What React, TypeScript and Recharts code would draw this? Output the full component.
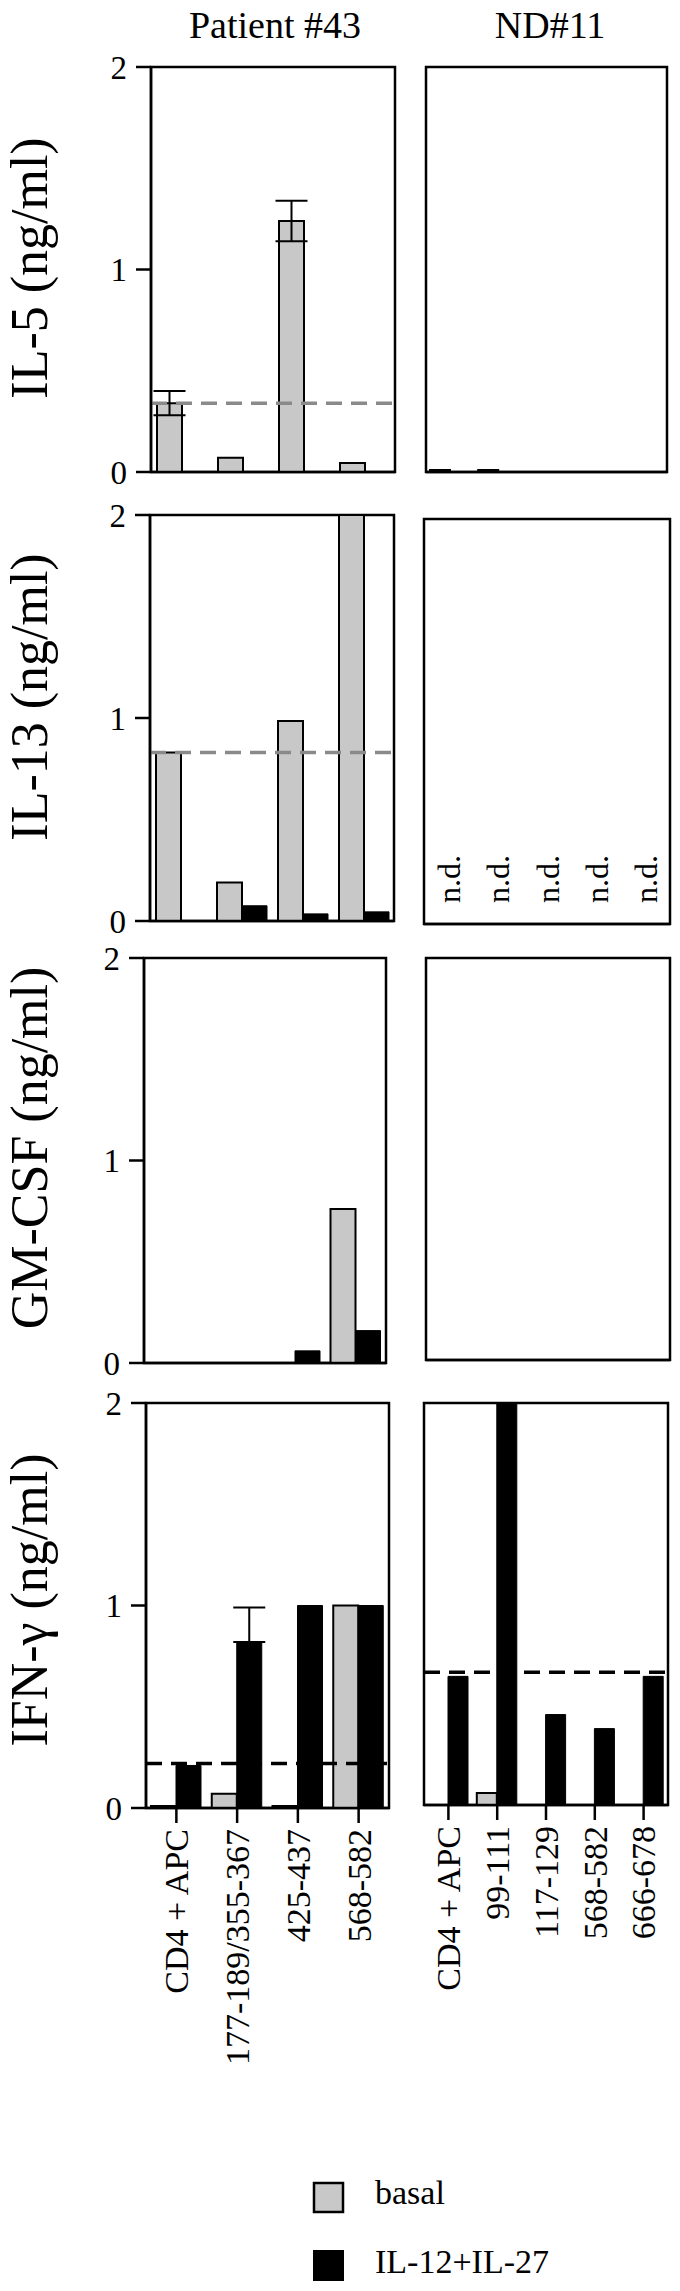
import React from "react";
import { BarChart, Bar, XAxis, YAxis, ReferenceLine, ReferenceArea, ErrorBar, LabelList } from "recharts";

const SERIF = '"Liberation Serif", "Times New Roman", Times, serif';
const GRAY = "#c8c8c8";

// categories (peptides)
const patientCats = ["CD4 + APC", "177-189/355-367", "425-437", "568-582"];
const donorCats = ["CD4 + APC", "99-111", "117-129", "568-582", "666-678"];

const yTicks = [0, 1, 2];

// IL-5
const il5PatientBasal = [0.34, 0.07, 1.24, 0.045];
const il5PatientBasalErr = [0.06, 0, 0.1, 0];
const il5PatientStim = [0, 0, 0, 0];
const il5PatientCutoff = 0.34;
const il5DonorBasal = [0.01, 0.01, 0, 0, 0];
const il5DonorStim = [0, 0, 0, 0, 0];

// IL-13 (donor: not detected)
const il13PatientBasal = [0.83, 0.19, 0.985, 2.0];
const il13PatientStim = [0, 0.075, 0.035, 0.045];
const il13PatientCutoff = 0.83;
const il13DonorNd = ["n.d.", "n.d.", "n.d.", "n.d.", "n.d."];

// GM-CSF
const gmPatientBasal = [0, 0, 0, 0.76];
const gmPatientStim = [0, 0, 0.06, 0.16];
const gmDonorBasal = [0, 0, 0, 0, 0];
const gmDonorStim = [0, 0, 0, 0, 0];

// IFN-gamma
const ifnPatientBasal = [0.01, 0.07, 0.01, 1.0];
const ifnPatientStim = [0.21, 0.82, 1.0, 1.0];
const ifnPatientStimErr = [0, [0, 0.17], 0, 0];
const ifnPatientCutoff = 0.22;
const ifnDonorBasal = [0, 0.06, 0, 0, 0];
const ifnDonorStim = [0.64, 2.0, 0.45, 0.38, 0.64];
const ifnDonorCutoff = 0.66;

const seriesNames = ["basal", "IL-12+IL-27"];

const rows = (cats, basal, stim, basalErr?, stimErr?) =>
  cats.map((cat, i) => ({
    cat,
    basal: basal[i],
    stim: stim[i],
    basalErr: basalErr ? basalErr[i] : 0,
    stimErr: stimErr ? stimErr[i] : 0,
  }));

const ndRows = (cats, nd) => cats.map((cat, i) => ({ cat, ndBase: 0, nd: nd[i] }));

const line = { stroke: "#000", strokeWidth: 2.5 };

const RotatedTick = (props) => {
  const { x, y, payload } = props;
  return (
    <text
      x={x}
      y={y}
      transform={`rotate(-90 ${x} ${y})`}
      textAnchor="end"
      dy="0.35em"
      fontSize={34}
      fontFamily={SERIF}
      fill="#000"
    >
      {payload.value}
    </text>
  );
};

const NdLabel = (props) => {
  const { x, y, width, height, value } = props;
  if (!value) return null;
  const cx = Number(x) + Number(width) / 2;
  const by = Number(y) + Number(height) - 21;
  return (
    <text
      x={cx}
      y={by}
      transform={`rotate(-90 ${cx} ${by})`}
      textAnchor="start"
      dy="0.35em"
      fontSize={32}
      fontFamily={SERIF}
      fill="#000"
    >
      {value}
    </text>
  );
};

function Panel({ box, data, side, yTitle, labelY, showXTicks, cutoff, cutoffColor, barSize, nd }) {
  const TOP = 20;
  const SIDE = 12;
  const isLeft = side === "left";
  const xAxisH = showXTicks ? 280 : 30;
  const plotH = box.y1 - box.y0;
  const chartLeft = isLeft ? 0 : box.x0 - SIDE;
  const chartTop = box.y0 - TOP;
  const width = isLeft ? box.x1 + SIDE : box.x1 - box.x0 + 2 * SIDE;
  const height = TOP + plotH + xAxisH;

  const yLabel = isLeft
    ? () => (
        <text
          x={47}
          y={labelY - chartTop}
          transform={`rotate(-90 47 ${labelY - chartTop})`}
          textAnchor="middle"
          fontSize={52}
          fontFamily={SERIF}
          fill="#000"
        >
          {yTitle}
        </text>
      )
    : undefined;

  return (
    <div style={{ position: "absolute", left: chartLeft, top: chartTop }}>
      <BarChart
        width={width}
        height={height}
        data={data}
        margin={{ top: TOP, right: SIDE, bottom: 0, left: isLeft ? 0 : SIDE }}
        barGap={0}
        barSize={barSize}
        style={{ fontFamily: SERIF }}
      >
        <XAxis
          dataKey="cat"
          height={xAxisH}
          axisLine={line}
          tickLine={showXTicks ? line : false}
          tickSize={15}
          tickMargin={6}
          tick={showXTicks ? <RotatedTick /> : false}
          interval={0}
        />
        <YAxis
          domain={[0, 2]}
          ticks={yTicks}
          interval={0}
          allowDataOverflow
          hide={!isLeft}
          width={isLeft ? box.x0 : 0}
          axisLine={line}
          tickLine={line}
          tickSize={15}
          tickMargin={9}
          tick={{ fontSize: 33, fontFamily: SERIF, fill: "#000" }}
          label={yLabel}
        />
        {nd ? (
          <Bar dataKey="ndBase" fill="none" stroke="none" minPointSize={1} isAnimationActive={false}>
            <LabelList dataKey="nd" content={NdLabel} />
          </Bar>
        ) : null}
        {!nd ? (
          <Bar dataKey="basal" name={seriesNames[0]} fill={GRAY} stroke="#000" strokeWidth={2} isAnimationActive={false}>
            <ErrorBar dataKey="basalErr" width={16} stroke="#000" strokeWidth={2} />
          </Bar>
        ) : null}
        {!nd ? (
          <Bar dataKey="stim" name={seriesNames[1]} fill="#000" stroke="#000" strokeWidth={1} isAnimationActive={false}>
            <ErrorBar dataKey="stimErr" width={16} stroke="#000" strokeWidth={2} />
          </Bar>
        ) : null}
        {cutoff != null && (
          <ReferenceLine y={cutoff} stroke={cutoffColor} strokeWidth={3.5} strokeDasharray="16 9" />
        )}
        <ReferenceArea y1={0} y2={2} fill="none" stroke="#000" strokeWidth={2.5} ifOverflow="visible" />
      </BarChart>
    </div>
  );
}

const layout = [
  {
    yTitle: "IL-5 (ng/ml)",
    labelY: 268,
    left: { x0: 151, x1: 395, y0: 67, y1: 472 },
    right: { x0: 426, x1: 667, y0: 67, y1: 472 },
  },
  {
    yTitle: "IL-13 (ng/ml)",
    labelY: 697,
    left: { x0: 150, x1: 394, y0: 515, y1: 921 },
    right: { x0: 424, x1: 670, y0: 519, y1: 924 },
  },
  {
    yTitle: "GM-CSF (ng/ml)",
    labelY: 1148,
    left: { x0: 144, x1: 386, y0: 958, y1: 1363 },
    right: { x0: 426, x1: 670, y0: 958, y1: 1360 },
  },
  {
    yTitle: "IFN-γ (ng/ml)",
    labelY: 1600,
    left: { x0: 146, x1: 389, y0: 1403, y1: 1808 },
    right: { x0: 424, x1: 668, y0: 1403, y1: 1805 },
  },
];

const panelData = [
  {
    left: rows(patientCats, il5PatientBasal, il5PatientStim, il5PatientBasalErr),
    right: rows(donorCats, il5DonorBasal, il5DonorStim),
    leftCutoff: il5PatientCutoff,
    leftColor: "#8a8a8a",
  },
  {
    left: rows(patientCats, il13PatientBasal, il13PatientStim),
    right: ndRows(donorCats, il13DonorNd),
    rightNd: true,
    leftCutoff: il13PatientCutoff,
    leftColor: "#8a8a8a",
  },
  {
    left: rows(patientCats, gmPatientBasal, gmPatientStim),
    right: rows(donorCats, gmDonorBasal, gmDonorStim),
  },
  {
    left: rows(patientCats, ifnPatientBasal, ifnPatientStim, undefined, ifnPatientStimErr),
    right: rows(donorCats, ifnDonorBasal, ifnDonorStim),
    leftCutoff: ifnPatientCutoff,
    leftColor: "#000",
    rightCutoff: ifnDonorCutoff,
    rightColor: "#000",
  },
];

export default function App() {
  return (
    <div
      style={{
        position: "absolute",
        left: 0,
        top: 0,
        width: 680,
        height: 2291,
        background: "#fff",
        fontFamily: SERIF,
      }}
    >
      {layout.map((row, i) => {
        const d = panelData[i];
        const last = i === layout.length - 1;
        return (
          <React.Fragment key={row.yTitle}>
            <Panel
              box={row.left}
              data={d.left}
              side="left"
              yTitle={row.yTitle}
              labelY={row.labelY}
              showXTicks={last}
              cutoff={d.leftCutoff}
              cutoffColor={d.leftColor}
              barSize={25}
            />
            <Panel
              box={row.right}
              data={d.right}
              side="right"
              showXTicks={last}
              cutoff={d.rightCutoff}
              cutoffColor={d.rightColor}
              barSize={20}
              nd={d.rightNd}
            />
          </React.Fragment>
        );
      })}
      <svg
        width={680}
        height={2291}
        style={{ position: "absolute", left: 0, top: 0, pointerEvents: "none", fontFamily: SERIF }}
      >
        <text x={275} y={38} textAnchor="middle" fontSize={38} fontFamily={SERIF} fill="#000">
          Patient #43
        </text>
        <text x={550} y={38} textAnchor="middle" fontSize={38} fontFamily={SERIF} fill="#000">
          ND#11
        </text>
        <rect x={314} y={2183} width={29} height={29} fill={GRAY} stroke="#000" strokeWidth={2.5} />
        <text x={375} y={2204} fontSize={34} fontFamily={SERIF} fill="#000">
          {seriesNames[0]}
        </text>
        <rect x={313} y={2250} width={31} height={31} fill="#000" />
        <text x={375} y={2273} fontSize={34} fontFamily={SERIF} fill="#000">
          {seriesNames[1]}
        </text>
      </svg>
    </div>
  );
}
